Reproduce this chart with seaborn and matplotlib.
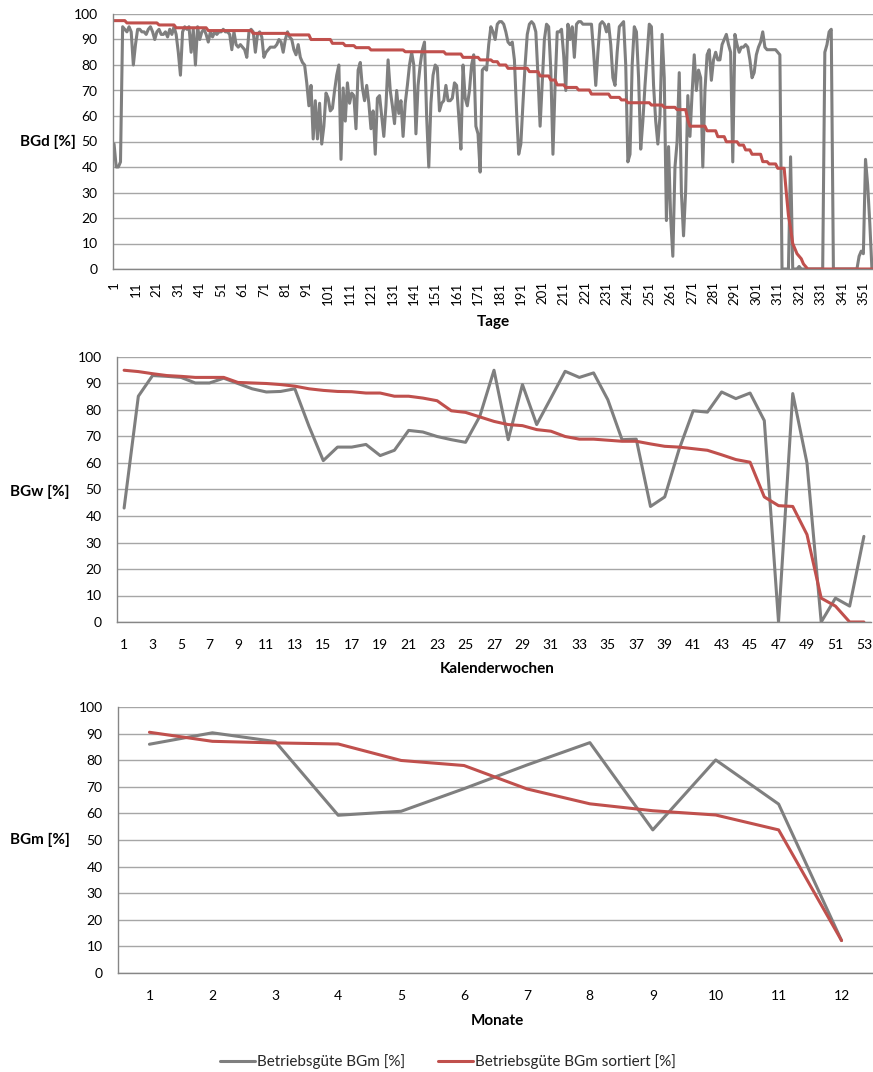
import numpy as np
import pandas as pd
import matplotlib
matplotlib.use("Agg")
import matplotlib.pyplot as plt
import seaborn as sns

# ---------------------------------------------------------------- data
# Betriebsgüte je Tag [%]
bgd = [
    49, 40, 40, 42, 95, 94, 93, 95, 93, 80,      # 1-10
    88, 94, 94, 93, 93, 92, 94, 95, 93, 90,      # 11-20
    93, 94, 92, 92, 93, 91, 94, 92, 95, 92,      # 21-30
    85, 76, 93, 95, 94, 95, 85, 94, 80, 95,      # 31-40
    90, 93, 94, 92, 89, 93, 91, 93, 92, 93,      # 41-50
    93, 94, 93, 93, 92, 86, 93, 88, 87, 88,      # 51-60
    87, 86, 83, 93, 94, 93, 85, 92, 93, 91,      # 61-70
    83, 85, 86, 87, 87, 87, 88, 90, 89, 85,      # 71-80
    90, 93, 91, 90, 86, 84, 88, 83, 81, 80,      # 81-90
    73, 64, 72, 51, 66, 51, 65, 49, 56, 69,      # 91-100
    67, 62, 63, 70, 76, 80, 43, 71, 58, 73,      # 101-110
    65, 69, 68, 55, 78, 81, 71, 66, 72, 65,      # 111-120
    55, 62, 45, 67, 68, 60, 52, 64, 82, 70,      # 121-130
    64, 57, 70, 61, 66, 52, 65, 72, 80, 85,      # 131-140
    80, 53, 72, 80, 86, 89, 60, 40, 65, 76,      # 141-150
    80, 79, 62, 65, 66, 72, 66, 66, 67, 73,      # 151-160
    72, 60, 47, 80, 67, 64, 70, 80, 84, 56,      # 161-170
    53, 38, 78, 79, 78, 88, 95, 93, 90, 96,      # 171-180
    97, 97, 96, 93, 89, 88, 89, 82, 62, 45,      # 181-190
    49, 65, 80, 92, 96, 97, 96, 93, 76, 56,      # 191-200
    73, 90, 96, 95, 78, 45, 72, 93, 93, 94,      # 201-210
    84, 70, 96, 90, 95, 83, 96, 97, 97, 96,      # 211-220
    96, 96, 96, 96, 85, 72, 85, 96, 97, 96,      # 221-230
    93, 96, 88, 75, 72, 85, 95, 96, 97, 80,      # 231-240
    42, 45, 80, 95, 93, 75, 47, 58, 72, 84,      # 241-250
    96, 95, 72, 58, 49, 60, 92, 75, 19, 48,      # 251-260
    20, 5, 40, 50, 77, 30, 13, 31, 68, 52,       # 261-270
    69, 84, 70, 78, 75, 40, 70, 84, 86, 74,      # 271-280
    82, 85, 82, 82, 88, 90, 92, 88, 85, 42,      # 281-290
    92, 88, 85, 87, 87, 88, 87, 82, 75, 77,      # 291-300
    84, 87, 89, 93, 87, 86, 86, 86, 86, 86,      # 301-310
    85, 84, 0, 0, 0, 0, 44, 0, 0, 0,             # 311-320
    1, 0, 0, 0, 0, 0, 0, 0, 0, 0,                # 321-330
    0, 0, 85, 88, 93, 94, 0, 0, 0, 0,            # 331-340
    0, 0, 0, 0, 0, 0, 0, 0, 5, 7,                # 341-350
    6, 43, 33, 18, 0,                            # 351-355
]

# Betriebsgüte je Tag, absteigend sortiert [%]
bgd_sorted = [
    97.4, 97.4, 97.4, 97.4, 97.4, 97.4,
    96.5, 96.5, 96.5, 96.5, 96.5, 96.5, 96.5, 96.5, 96.5, 96.5, 96.5, 96.5, 96.5, 96.5, 96.5,
    95.7, 95.7, 95.7, 95.7, 95.7, 95.7, 95.7, 95.7,
    94.6, 94.6, 94.6, 94.6, 94.6, 94.6, 94.6, 94.6, 94.6, 94.6, 94.6, 94.6, 94.6, 94.6, 94.6,
    93.5, 93.5, 93.5, 93.5, 93.5, 93.5, 93.5, 93.5, 93.5, 93.5, 93.5, 93.5, 93.5, 93.5, 93.5,
    93.5, 93.5, 93.5, 93.5, 93.5, 93.5,
    92.4, 92.4, 92.4, 92.4, 92.4, 92.4, 92.4, 92.4, 92.4, 92.4, 92.4, 92.4, 92.4, 92.4, 92.4,
    92.4, 92.4,
    91.8, 91.8, 91.8, 91.8, 91.8, 91.8, 91.8, 91.8, 91.8, 91.8,
    90.0, 90.0, 90.0, 90.0, 90.0, 90.0, 90.0, 90.0, 90.0, 90.0,
    88.5, 88.5, 88.5, 88.5, 88.5, 88.5,
    87.6, 87.6, 87.6, 87.6, 87.6,
    86.8, 86.8, 86.8, 86.8, 86.8, 86.8, 86.8,
    85.9, 85.9, 85.9, 85.9, 85.9, 85.9, 85.9, 85.9, 85.9, 85.9, 85.9, 85.9, 85.9, 85.9, 85.9,
    85.9,
    85.2, 85.2, 85.2, 85.2, 85.2, 85.2, 85.2, 85.2, 85.2, 85.2, 85.2, 85.2, 85.2, 85.2, 85.2,
    85.2, 85.2, 85.2, 85.2,
    84.3, 84.3, 84.3, 84.3, 84.3, 84.3, 84.3, 84.3,
    83.0, 83.0, 83.0, 83.0, 83.0, 83.0, 83.0, 83.0,
    82.0, 82.0, 82.0, 82.0, 82.0, 82.0,
    81.3, 81.3, 81.3,
    80.0, 80.0, 80.0, 80.0,
    78.7, 78.7, 78.7, 78.7, 78.7, 78.7, 78.7, 78.7, 78.7, 78.7,
    77.4, 77.4, 77.4, 77.4, 77.4,
    75.7, 75.7, 75.7, 75.7, 75.7,
    74.1, 74.1, 74.1,
    72.2, 72.2, 72.2, 72.2,
    71.2, 71.2, 71.2, 71.2, 71.2, 71.2,
    70.2, 70.2, 70.2, 70.2, 70.2, 70.2,
    68.6, 68.6, 68.6, 68.6, 68.6, 68.6, 68.6, 68.6, 68.6,
    67.3, 67.3, 67.3, 67.3, 67.3,
    66.3, 66.3, 66.3,
    65.2, 65.2, 65.2, 65.2, 65.2, 65.2, 65.2, 65.2, 65.2, 65.2, 65.2,
    64.3, 64.3, 64.3, 64.3, 64.3, 64.3,
    63.4, 63.4, 63.4, 63.4, 63.4, 63.4,
    62.5, 62.5, 62.5, 62.5, 62.5,
    58.4,
    56.0, 56.0, 56.0, 56.0, 56.0, 56.0, 56.0, 56.0,
    54.2, 54.2, 54.2, 54.2, 54.2,
    51.9, 51.9, 51.9, 51.9,
    49.9, 49.9, 49.9, 49.9, 49.9, 49.9,
    48.6, 48.6, 48.6,
    46.7, 46.7, 46.7,
    45.0, 45.0, 45.0, 45.0, 45.0,
    42.1, 42.1, 42.1,
    41.2, 41.2, 41.2, 41.2,
    39.5, 39.5, 39.5, 39.5,
    30, 21, 16, 10, 8, 6, 5, 4, 2, 1,
    0, 0, 0, 0, 0, 0, 0, 0, 0, 0, 0, 0, 0, 0, 0, 0,
    0, 0, 0, 0, 0, 0, 0, 0, 0, 0, 0, 0, 0, 0, 0,
]

# Betriebsgüte je Kalenderwoche [%]
bgw = [43, 85.2, 93, 92.7, 92.3, 90.2, 90.2, 92, 90, 88,
       86.8, 87, 88, 73.8, 60.9, 66, 66, 67, 62.8, 64.8,
       72.3, 71.7, 70, 68.8, 67.8, 77.6, 95, 68.8, 89.6, 74.5,
       84.5, 94.6, 92.3, 94, 83.9, 68.8, 69, 43.6, 47.2, 65,
       79.7, 79.2, 86.8, 84.3, 86.4, 76, 0, 86.2, 60, 0,
       9, 6, 32.3]
bgw_sorted = [95, 94.5, 93.7, 93, 92.7, 92.3, 92.3, 92.3, 90.4, 90.2,
              90, 89.6, 89, 88, 87.4, 87, 86.9, 86.4, 86.4, 85.2,
              85.2, 84.5, 83.5, 79.7, 79.1, 77.4, 75.7, 74.5, 74.1, 72.6,
              72, 70, 69, 69, 68.6, 68.2, 68.2, 67.2, 66.3, 66,
              65.4, 64.8, 63.1, 61.3, 60.3, 47.2, 43.9, 43.6, 33, 9,
              6, 0, 0]

# Betriebsgüte je Monat [%]
bgm = [86, 90.3, 87, 59.3, 60.8, 69.3, 78.2, 86.6, 53.8, 80.1, 63.5, 12.2]
bgm_sorted = [90.5, 87.1, 86.5, 86.1, 79.9, 78.0, 69.2, 63.6, 61.0, 59.4, 53.8, 12.2]

series_labels = ["Betriebsgüte BGm [%]", "Betriebsgüte BGm sortiert [%]"]

# ---------------------------------------------------------------- style
sns.set_style("white")
plt.rcParams["font.family"] = ["Lato", "DejaVu Sans"]

GRAY = "#7f7f7f"
RED = "#c0504d"
GRID = "#a6a6a6"
AXIS = "#868686"
LW = 2.2
W, H = 873, 1072

fig = plt.figure(figsize=(W / 100, H / 100), dpi=100)


def axes_px(left, top, right, bottom):
    return fig.add_axes([left / W, 1 - bottom / H, (right - left) / W, (bottom - top) / H])


def draw(ax, values, sorted_values, xname, yname):
    n = len(values)
    df = pd.DataFrame({xname: np.arange(1, n + 1), yname: values, "sortiert": sorted_values})
    sns.lineplot(data=df, x=xname, y=yname, ax=ax, color=GRAY, linewidth=LW,
                 label=series_labels[0], legend=False)
    sns.lineplot(data=df, x=xname, y="sortiert", ax=ax, color=RED, linewidth=LW,
                 label=series_labels[1], legend=False)
    ax.set_xlim(0.5, n + 0.5)
    ax.set_ylim(0, 100)
    ax.set_yticks(range(0, 101, 10))
    ax.yaxis.grid(True, color=GRID, linewidth=1)
    ax.xaxis.grid(False)
    ax.set_axisbelow(True)
    for s in ("top", "right"):
        ax.spines[s].set_visible(False)
    for s in ("left", "bottom"):
        ax.spines[s].set_color(AXIS)
        ax.spines[s].set_linewidth(1)
    ax.set_xticks(np.arange(0.5, n + 1, 1), minor=True)
    ax.tick_params(axis="x", which="minor", length=4, color=AXIS, width=0.8)
    ax.tick_params(axis="x", which="major", length=0, labelsize=10, colors="black")
    ax.tick_params(axis="y", length=5, color=AXIS, width=0.8, pad=6, labelsize=10,
                   labelcolor="black")
    ax.set_xlabel("")
    ax.set_ylabel("")


# Tageswerte
ax1 = axes_px(113, 14, 873, 269)
draw(ax1, bgd, bgd_sorted, "Tag", "BGd")
ax1.set_xticks(range(1, len(bgd) + 1, 10))
ax1.set_xticklabels([str(d) for d in range(1, len(bgd) + 1, 10)], rotation=90)
ax1.tick_params(axis="x", which="major", pad=9, labelsize=9.5)
ax1.tick_params(axis="x", which="minor", length=4)

# Wochenwerte
ax2 = axes_px(117, 357, 871, 622)
draw(ax2, bgw, bgw_sorted, "KW", "BGw")
ax2.set_xticks(range(1, len(bgw) + 1, 2))
ax2.tick_params(axis="x", which="major", pad=12)
ax2.tick_params(axis="x", which="minor", length=5)

# Monatswerte
ax3 = axes_px(118, 707, 873, 973)
draw(ax3, bgm, bgm_sorted, "Monat", "BGm")
ax3.set_xticks(range(1, len(bgm) + 1))
ax3.tick_params(axis="x", which="major", pad=12)
ax3.tick_params(axis="x", which="minor", length=5)

# Achsentitel
bold = dict(fontsize=11, fontweight="bold", color="black")
fig.text(48 / W, 1 - 142 / H, "BGd [%]", ha="center", va="center", **bold)
fig.text(40 / W, 1 - 492 / H, "BGw [%]", ha="center", va="center", **bold)
fig.text(40 / W, 1 - 840 / H, "BGm [%]", ha="center", va="center", **bold)
fig.text(493 / W, 1 - 322 / H, "Tage", ha="center", va="center", **bold)
fig.text(497 / W, 1 - 669 / H, "Kalenderwochen", ha="center", va="center", **bold)
fig.text(497 / W, 1 - 1021 / H, "Monate", ha="center", va="center", **bold)

# Legende
handles = ax3.get_lines()[:2]
fig.legend(handles, series_labels, loc="center", bbox_to_anchor=(448 / W, 1 - 1062 / H),
           ncol=2, frameon=False, fontsize=11, handlelength=2.3, handletextpad=0.15,
           columnspacing=2.1)

fig.savefig("out.png", dpi=100)
